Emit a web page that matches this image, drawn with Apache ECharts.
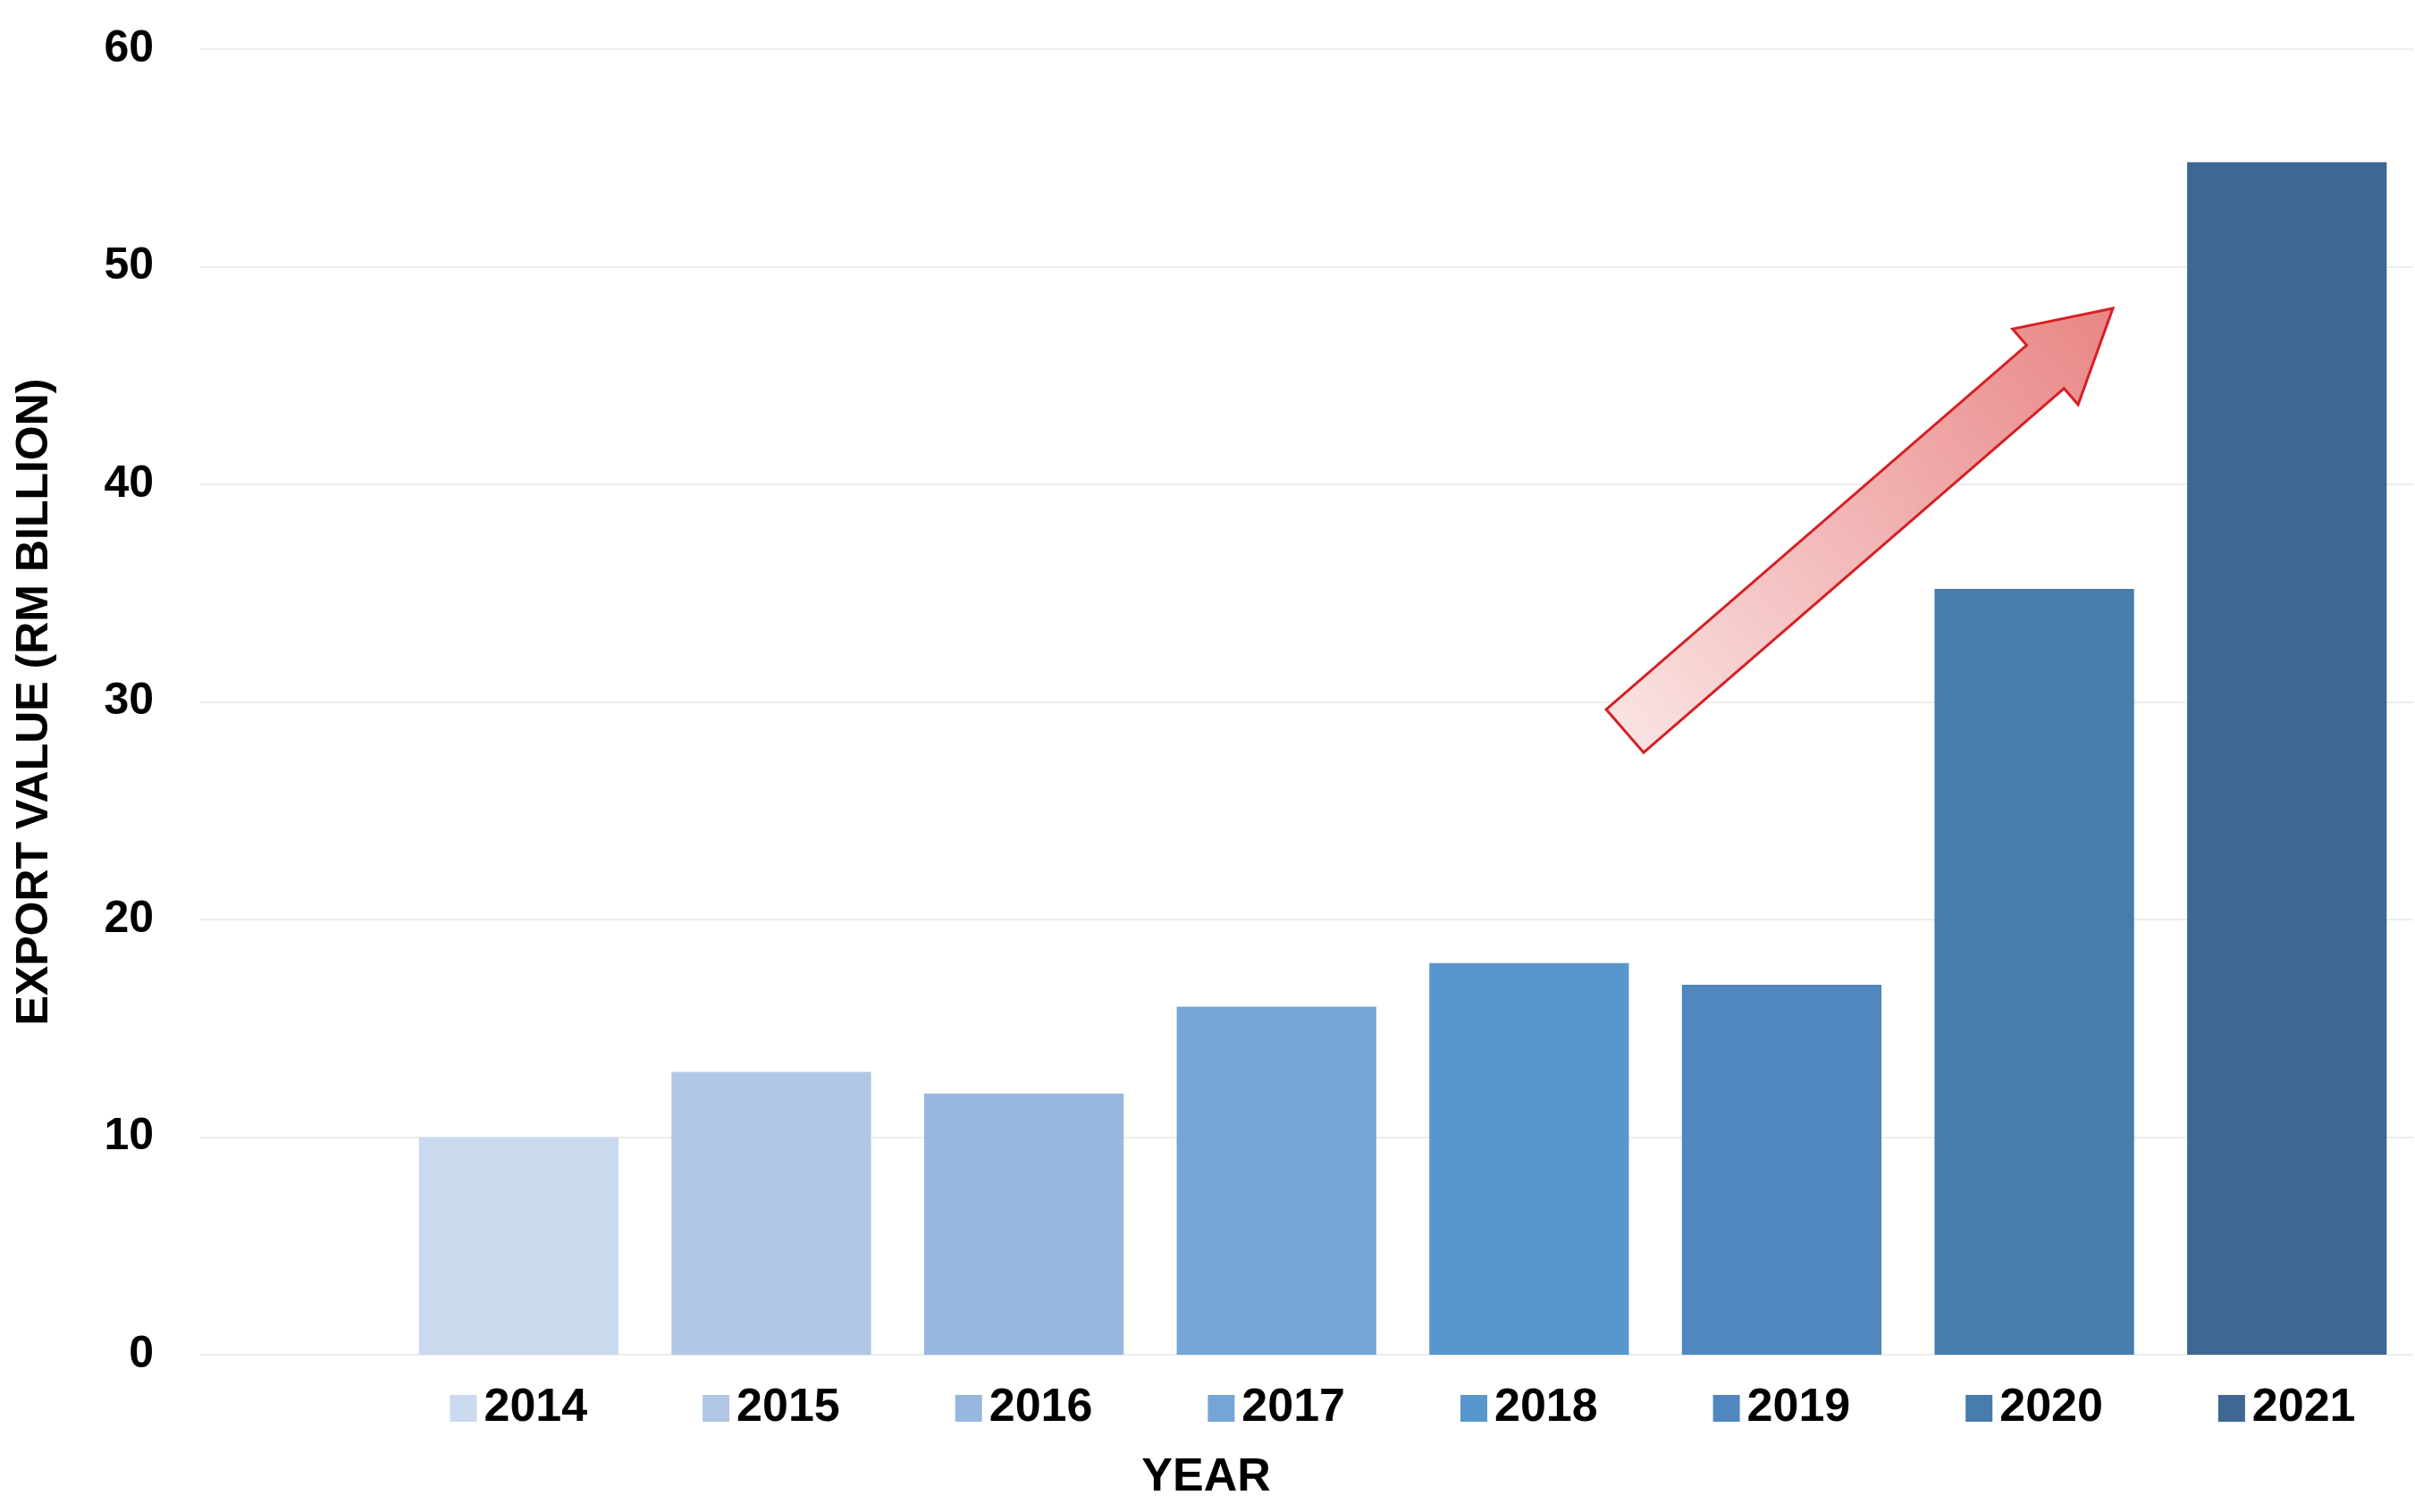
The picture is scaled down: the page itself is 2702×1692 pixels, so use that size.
<!DOCTYPE html>
<html>
<head>
<meta charset="utf-8">
<script src="https://cdn.jsdelivr.net/npm/echarts@6/dist/echarts.min.js"></script>
<style>html,body{margin:0;padding:0;background:#fff;}#main{width:2702px;height:1692px;}</style>
</head>
<body>
<div id="main"></div>
<script>
// data
var years = ['2014', '2015', '2016', '2017', '2018', '2019', '2020', '2021'];
var values = [10, 13, 12, 16, 18, 17, 35.2, 54.8];
var colors = ['#c9d9ee', '#b0c7e5', '#97b7de', '#75a6d7', '#5897cd', '#4f87be', '#477cad', '#3e6892'];
var yTicks = [0, 10, 20, 30, 40, 50, 60];

var chart = echarts.init(document.getElementById('main'));
var font = 'Liberation Sans';

var rich = {};
years.forEach(function (y, i) {
	rich['s' + i] = { width: 30, height: 30, backgroundColor: colors[i] };
	rich['t' + i] = { fontSize: 52, fontWeight: 'bold', color: '#000', fontFamily: font, padding: [0, 0, 0, 8] };
});

// arrow shape
function arrow(x1, y1, x2, y2, hw, hhw, hl) {
	var dx = x2 - x1, dy = y2 - y1, L = Math.sqrt(dx * dx + dy * dy);
	var ux = dx / L, uy = dy / L, nx = -uy, ny = ux;
	var bx = x2 - ux * hl, by = y2 - uy * hl;
	return [
		[x1 + nx * hw, y1 + ny * hw], [bx + nx * hw, by + ny * hw], [bx + nx * hhw, by + ny * hhw],
		[x2, y2],
		[bx - nx * hhw, by - ny * hhw], [bx - nx * hw, by - ny * hw], [x1 - nx * hw, y1 - ny * hw]
	];
}

chart.setOption({
	animation: false,
	grid: [
		{ left: 224, right: 2, top: 55, bottom: 176 },
		{ left: 439, right: 2, top: 55, bottom: 176 }
	],
	xAxis: [
		{ gridIndex: 0, type: 'category', data: [''], show: false },
		{
			gridIndex: 1, type: 'category', data: years,
			axisLine: { show: false }, axisTick: { show: false },
			axisLabel: {
				margin: 34,
				formatter: function (v, i) { return '{s' + i + '|}{t' + i + '|' + v + '}'; },
				rich: rich
			},
			name: 'YEAR', nameLocation: 'middle', nameGap: 112,
			nameTextStyle: { fontSize: 52, fontWeight: 'bold', color: '#000', fontFamily: font, padding: [0, 0, 0, -440] }
		}
	],
	yAxis: [
		{
			gridIndex: 0, type: 'value', min: 0, max: 60, interval: 10,
			axisLine: { show: false }, axisTick: { show: false },
			splitLine: { lineStyle: { color: '#ececec', width: 2 } },
			axisLabel: { fontSize: 50, fontWeight: 'bold', color: '#000', fontFamily: font, margin: 52 },
			name: 'EXPORT VALUE (RM BILLION)', nameLocation: 'middle', nameGap: 160,
			nameTextStyle: { fontSize: 50, fontWeight: 'bold', color: '#000', fontFamily: font }
		},
		{ gridIndex: 1, type: 'value', min: 0, max: 60, show: false, splitLine: { show: false } }
	],
	series: [{
		type: 'bar', xAxisIndex: 1, yAxisIndex: 1, barWidth: '79%',
		data: values.map(function (v, i) { return { value: v, itemStyle: { color: colors[i] } }; })
	}],
	graphic: [{
		type: 'polygon', z: 100,
		shape: { points: arrow(1818, 818, 2364, 345, 32, 56, 100) },
		style: {
			fill: new echarts.graphic.LinearGradient(0, 1, 1, 0, [
				{ offset: 0, color: '#fbe6e6' }, { offset: 1, color: '#e98585' }
			]),
			stroke: '#d62024', lineWidth: 3
		}
	}]
});
</script>
</body>
</html>
